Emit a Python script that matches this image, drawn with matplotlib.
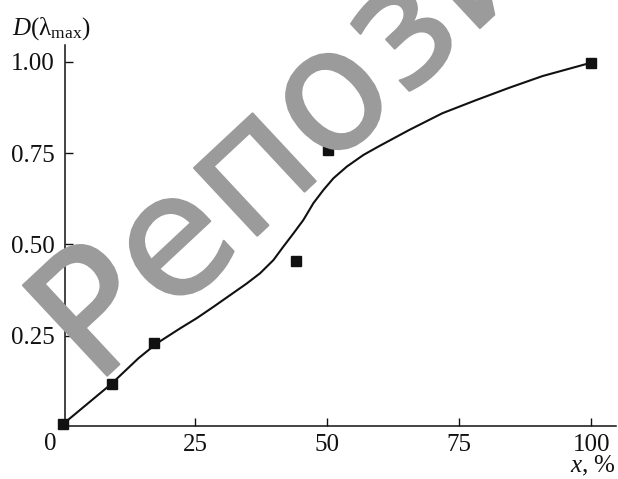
import matplotlib
matplotlib.use("Agg")
import matplotlib.pyplot as plt
import matplotlib.patheffects as pe

# measured points
x_pts = [0.0, 9.2, 17.2, 44.1, 50.1, 100.0]
y_pts = [0.007, 0.118, 0.231, 0.455, 0.758, 0.997]

# fitted curve
x_curve = [0.0, 9.15, 14.26, 17.75, 22.16, 25.32, 28.47, 31.63, 34.79, 37.31,
           39.83, 41.72, 43.62, 45.51, 47.41, 49.30, 51.19, 53.73, 56.88, 59.72,
           65.5, 71.8, 78.2, 84.5, 90.8, 99.6]
y_curve = [0.008, 0.118, 0.188, 0.229, 0.270, 0.298, 0.329, 0.361, 0.393, 0.421,
           0.457, 0.494, 0.530, 0.567, 0.613, 0.649, 0.681, 0.713, 0.745, 0.768,
           0.813, 0.859, 0.895, 0.929, 0.961, 0.996]

x_ticks = [25, 50, 75, 100]
y_ticks = [0.25, 0.50, 0.75, 1.00]
y_ticklabels = ["0.25", "0.50", "0.75", "1.00"]

plt.rcParams['font.family'] = ['Liberation Serif', 'DejaVu Serif']
plt.rcParams['mathtext.fontset'] = 'custom'
plt.rcParams['mathtext.rm'] = 'Liberation Serif'
plt.rcParams['mathtext.it'] = 'Liberation Serif:italic'

W, H = 618, 479
fig = plt.figure(figsize=(W / 100, H / 100), dpi=100)
ax = fig.add_axes([64.5 / W, 1 - 425.7 / H, (616 - 64.5) / W, (425.7 - 45) / H])

# watermark behind the chart
wm = fig.text(95 / W, 1 - 387 / H, "Репозиторий", fontsize=122, color='#9b9b9b',
              family='DejaVu Sans', rotation=43, rotation_mode='anchor',
              ha='left', va='baseline', zorder=0)
wm.set_path_effects([pe.withStroke(linewidth=1.5, foreground='#9b9b9b')])
ax.set_facecolor('none')

ax.plot(x_curve, y_curve, color='#111111', lw=1.5, zorder=3)
ax.plot(x_pts, y_pts, ls='none', marker='s', ms=6.5, color='#111111',
        clip_on=False, zorder=4)

ax.set_xlim(0.28, 104.7)
ax.set_ylim(0.0036, 1.046)
ax.set_xticks(x_ticks)
ax.set_xticklabels([str(t) for t in x_ticks])
ax.set_yticks(y_ticks)
ax.set_yticklabels(y_ticklabels)

for s in ['top', 'right']:
    ax.spines[s].set_visible(False)
for s in ['left', 'bottom']:
    ax.spines[s].set_linewidth(1.1)
    ax.spines[s].set_color('#111111')

ax.tick_params(direction='in', length=6, width=1.0, labelsize=18, colors='#111111')
ax.tick_params(axis='y', pad=7)
ax.tick_params(axis='x', pad=6)

fig.text(50 / W, 1 - 444 / H, "0", fontsize=18, ha='center', va='center', color='#111111')
fig.text(12 / W, 1 - 29 / H, r"$D(\mathrm{\lambda}_{\mathrm{max}})$", fontsize=18,
         ha='left', va='center', color='#111111')
fig.text(616 / W, 1 - 466 / H, r"$x$, %", fontsize=18, ha='right', va='center',
         color='#111111')

fig.savefig("out.png", dpi=100)
